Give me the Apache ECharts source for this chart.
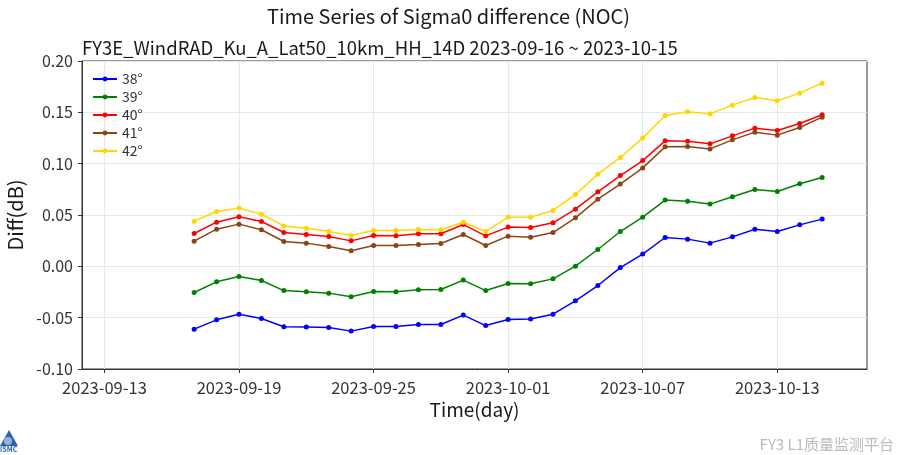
<!DOCTYPE html>
<html lang="en">
<head>
  <meta charset="UTF-8">
  <title>Sigma0 difference</title>
  <style>
    html, body { margin: 0; padding: 0; background: #fff; }
    #main { width: 897px; height: 455px; }
  </style>
</head>
<body>
  <div id="main"></div>
  <script src="https://cdn.jsdelivr.net/npm/echarts@6/dist/echarts.min.js"></script>
  <script>
    // daily points, 2023-09-17 .. 2023-10-15
    const dates = [
      '2023-09-17', '2023-09-18', '2023-09-19', '2023-09-20', '2023-09-21', '2023-09-22',
      '2023-09-23', '2023-09-24', '2023-09-25', '2023-09-26', '2023-09-27', '2023-09-28',
      '2023-09-29', '2023-09-30', '2023-10-01', '2023-10-02', '2023-10-03', '2023-10-04',
      '2023-10-05', '2023-10-06', '2023-10-07', '2023-10-08', '2023-10-09', '2023-10-10',
      '2023-10-11', '2023-10-12', '2023-10-13', '2023-10-14', '2023-10-15'
    ]
    const deg38 = [-0.0612, -0.0521, -0.0466, -0.0508, -0.0589, -0.0592, -0.0596, -0.0631, -0.0586, -0.0585,
      -0.0567, -0.0567, -0.0475, -0.0577, -0.0518, -0.0514, -0.0466, -0.0336, -0.0187, -0.0012,
      0.0119, 0.0281, 0.0265, 0.0226, 0.0287, 0.0362, 0.0339, 0.0404, 0.0460]
    const deg39 = [-0.0255, -0.0151, -0.0099, -0.0138, -0.0236, -0.0248, -0.0261, -0.0297, -0.0245, -0.0247,
      -0.0229, -0.0226, -0.0134, -0.0236, -0.0168, -0.0170, -0.0122, 0.0002, 0.0164, 0.0339,
      0.0479, 0.0645, 0.0635, 0.0606, 0.0677, 0.0748, 0.0729, 0.0804, 0.0865]
    const deg40 = [0.0320, 0.0430, 0.0482, 0.0437, 0.0330, 0.0310, 0.0291, 0.0248, 0.0300, 0.0298,
      0.0317, 0.0317, 0.0407, 0.0297, 0.0382, 0.0378, 0.0424, 0.0557, 0.0726, 0.0884,
      0.1030, 0.1222, 0.1219, 0.1193, 0.1271, 0.1346, 0.1323, 0.1391, 0.1476]
    const deg41 = [0.0245, 0.0362, 0.0411, 0.0356, 0.0242, 0.0226, 0.0193, 0.0151, 0.0203, 0.0203,
      0.0212, 0.0222, 0.0310, 0.0203, 0.0294, 0.0284, 0.0329, 0.0472, 0.0654, 0.0801,
      0.0959, 0.1164, 0.1167, 0.1144, 0.1232, 0.1307, 0.1278, 0.1352, 0.1453]
    const deg42 = [0.0440, 0.0534, 0.0567, 0.0508, 0.0394, 0.0372, 0.0339, 0.0300, 0.0349, 0.0349,
      0.0358, 0.0356, 0.0430, 0.0339, 0.0479, 0.0479, 0.0544, 0.0699, 0.0898, 0.1060,
      0.1249, 0.1469, 0.1505, 0.1485, 0.1570, 0.1644, 0.1612, 0.1687, 0.1784]

    const seriesNames = ['38°', '39°', '40°', '41°', '42°']
    const seriesColors = ['#0000ff', '#008000', '#ff0000', '#8b4513', '#ffd700']
    const xTickLabels = ['2023-09-13', '2023-09-19', '2023-09-25', '2023-10-01', '2023-10-07', '2023-10-13']
    const xRange = ['2023-09-12', '2023-10-17']

    const ms = s => new Date(s + 'T00:00:00Z').getTime()
    const pad = n => (n < 10 ? '0' : '') + n
    const fmtDate = v => {
      const d = new Date(v)
      return d.getUTCFullYear() + '-' + pad(d.getUTCMonth() + 1) + '-' + pad(d.getUTCDate())
    }

    const font = '"Noto Sans CJK SC", "Noto Sans", sans-serif'
    const allValues = [deg38, deg39, deg40, deg41, deg42]

    const series = seriesNames.map((name, i) => ({
      name: name,
      type: 'line',
      data: dates.map((d, j) => [ms(d), allValues[i][j]]),
      symbol: 'circle',
      symbolSize: 5,
      showSymbol: true,
      itemStyle: { color: seriesColors[i] },
      lineStyle: { color: seriesColors[i], width: 1.5 },
      emphasis: { disabled: true },
      animation: false
    }))

    const myChart = echarts.init(document.getElementById('main'))

    const option = {
      backgroundColor: '#fff',
      textStyle: { fontFamily: font },
      title: [
        {
          text: 'Time Series of Sigma0 difference (NOC)',
          left: 'center',
          top: 1,
          textStyle: { fontSize: 20, fontWeight: 'normal', color: '#1a1a1a', fontFamily: font }
        },
        {
          text: 'FY3E_WindRAD_Ku_A_Lat50_10km_HH_14D 2023-09-16 ~ 2023-10-15',
          left: 77,
          top: 34,
          textStyle: { fontSize: 18.5, fontWeight: 'normal', color: '#1a1a1a', fontFamily: font }
        }
      ],
      legend: {
        orient: 'vertical',
        left: 92,
        top: 72,
        padding: 0,
        itemWidth: 24,
        itemHeight: 6,
        itemGap: 4,
        data: seriesNames,
        textStyle: { fontSize: 14, color: '#333', fontFamily: font }
      },
      grid: {
        left: 82,
        right: 30,
        top: 61,
        bottom: 86,
        show: true,
        borderColor: '#333',
        borderWidth: 1,
        containLabel: false,
        outerBoundsMode: 'none'
      },
      xAxis: {
        type: 'value',
        min: ms(xRange[0]),
        max: ms(xRange[1]),
        name: 'Time(day)',
        nameLocation: 'middle',
        nameGap: 30,
        nameTextStyle: { fontSize: 19, color: '#1a1a1a' },
        axisLine: { show: true, onZero: false, lineStyle: { color: '#333', width: 1 } },
        axisTick: {
          show: true,
          length: 4,
          lineStyle: { color: '#333' },
          customValues: xTickLabels.map(ms)
        },
        axisLabel: {
          fontSize: 16.5,
          color: '#333',
          margin: 10,
          customValues: xTickLabels.map(ms),
          formatter: v => fmtDate(v)
        },
        splitLine: { show: true, lineStyle: { color: '#e8e8e8', width: 1 } }
      },
      yAxis: {
        type: 'value',
        min: -0.10,
        max: 0.20,
        interval: 0.05,
        name: 'Diff(dB)',
        nameLocation: 'middle',
        nameGap: 46,
        nameTextStyle: { fontSize: 20, color: '#1a1a1a' },
        axisLine: { show: true, onZero: false, lineStyle: { color: '#333', width: 1 } },
        axisTick: { show: true, length: 4, lineStyle: { color: '#333' } },
        axisLabel: {
          fontSize: 16,
          color: '#333',
          margin: 9,
          formatter: v => v.toFixed(2)
        },
        splitLine: { show: true, lineStyle: { color: '#e8e8e8', width: 1 } }
      },
      graphic: [
        {
          type: 'text',
          right: 3,
          bottom: 3,
          style: { text: 'FY3 L1质量监测平台', fill: '#bbbbbb', fontSize: 15, fontFamily: font }
        },
        {
          type: 'polygon',
          shape: { points: [[9, 430], [0, 446], [18, 446]] },
          style: { fill: '#2a64b0' }
        },
        {
          type: 'circle',
          shape: { cx: 8, cy: 441, r: 4 },
          style: { fill: '#ffffff', opacity: 0.5 }
        },
        {
          type: 'text',
          left: 0,
          top: 446,
          style: { text: 'ISMC', fill: '#2a64b0', fontSize: 7, fontWeight: 'bold', fontFamily: font }
        }
      ],
      series: series
    }

    myChart.setOption(option)
  </script>
</body>
</html>
